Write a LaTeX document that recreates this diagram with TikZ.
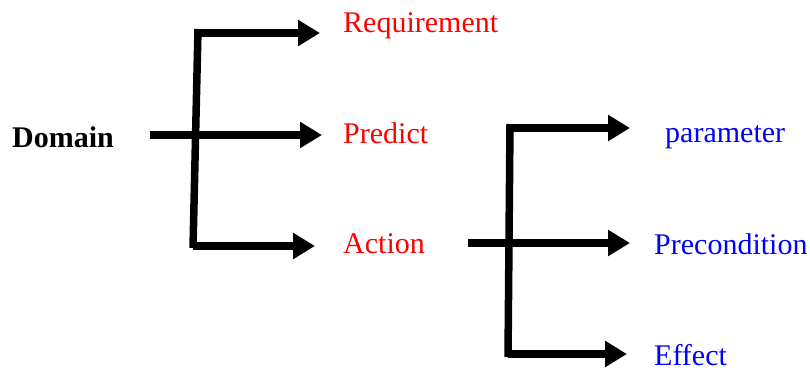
\documentclass[tikz,border=0pt]{standalone}
\usepackage{fontspec}
\setmainfont{Liberation Serif}
\usetikzlibrary{arrows.meta}
\definecolor{lblred}{RGB}{255,0,0}
\definecolor{lblblue}{RGB}{0,0,255}
\begin{document}
\begin{tikzpicture}[x=1pt,y=-1pt,
  bar/.style={line width=7.5pt,black},
  arr/.style={bar,-{Triangle[length=22pt,width=25pt]}},
  lbl/.style={anchor=base west,inner sep=0pt,font=\fontsize{30}{31}\selectfont},
  redlbl/.style={lbl,text=lblred},
  bluelbl/.style={lbl,text=lblblue}]
\useasboundingbox (0,0) rectangle (810,370);

% labels
\node[lbl,font=\fontsize{30}{31}\selectfont\bfseries] (domain) at (12,147) {Domain};
\node[redlbl] (req) at (343,32) {Requirement};
\node[redlbl] (pred) at (343,143) {Predict};
\node[redlbl] (act) at (343,253) {Action};
\node[bluelbl] (param) at (665,142) {parameter};
\node[bluelbl] (precond) at (654,254) {Precondition};
\node[bluelbl] (effect) at (654,365) {Effect};

% first bracket
\coordinate (s1) at (150,135);
\coordinate (t1) at (198,29);
\coordinate (b1) at (193,248);
\coordinate (m1) at (195.5,135);
\coordinate (e1a) at (320,33);
\coordinate (e1b) at (322,135);
\coordinate (e1c) at (315,246);
\draw[bar] (t1) -- (b1);
\draw[bar] (s1) -- (m1);
\draw[arr] (t1 |- e1a) -- (e1a);
\draw[arr] (m1) -- (e1b);
\draw[arr] (b1 |- e1c) -- (e1c);

% second bracket
\coordinate (s2) at (468,243);
\coordinate (t2) at (510,124);
\coordinate (b2) at (508,357);
\coordinate (m2) at (509,243);
\coordinate (e2a) at (630,128);
\coordinate (e2b) at (630,243);
\coordinate (e2c) at (627,354);
\draw[bar] (t2) -- (b2);
\draw[bar] (s2) -- (m2);
\draw[arr] (t2 |- e2a) -- (e2a);
\draw[arr] (m2) -- (e2b);
\draw[arr] (b2 |- e2c) -- (e2c);
\end{tikzpicture}
\end{document}
